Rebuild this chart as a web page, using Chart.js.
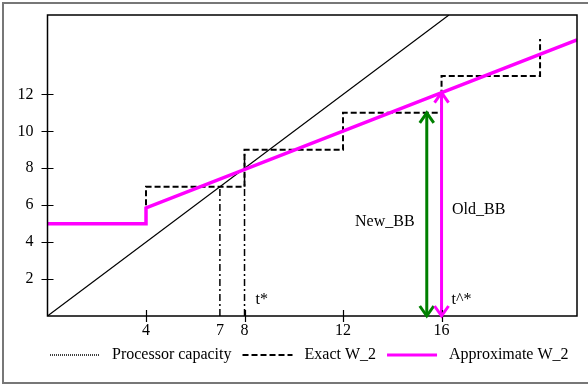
<!DOCTYPE html>
<html>
<head>
<meta charset="utf-8">
<script src="https://cdn.jsdelivr.net/npm/chart.js@4"></script>
<style>
  html, body { margin: 0; padding: 0; background: #fff; }
  #wrap { position: relative; width: 588px; height: 390px; }
</style>
</head>
<body>
<div id="wrap"><canvas id="chart" width="588" height="390"></canvas></div>
<script>
const FONT = "'Liberation Serif', 'DejaVu Serif', serif";

// axis ticks
const xTicks = [4, 7, 8, 12, 16];
const yTicks = [2, 4, 6, 8, 10, 12];
const xMax = 21.5;
const yMax = 16.3;

// processor capacity: y = t
const capacityX = [0, 16.3];
const capacityY = [0, 16.3];

// exact W_2 step function
const exactX = [0, 4, 4, 8, 8, 12, 12, 16, 16, 20, 20];
const exactY = [5, 5, 7, 7, 9, 9, 11, 11, 13, 13, 15];

// approximate W_2
const approxX = [0, 4, 4, 21.5];
const approxY = [5, 5, 5.85, 14.95];

// dash-dot drop lines at t = 7 and t* = 8
const dropX = [7, 8];
const dropY = [7, 9];

// budget arrows
const newBB = { x: 15.4, y: 11 };
const oldBB = { x: 16, y: 12.1 };

const pts = (xs, ys) => xs.map((x, i) => ({ x, y: ys[i] }));

const legendItems = [
  { text: 'Processor capacity', color: '#000', width: 1.5, dash: [1, 1] },
  { text: 'Exact W_2', color: '#000', width: 2, dash: [6, 3] },
  { text: 'Approximate W_2', color: '#ff00ff', width: 3, dash: [] }
];

function arrowHead(ctx, x, y, dir, color) {
  // open chevron, dir = -1 points up, +1 points down
  ctx.save();
  ctx.strokeStyle = color;
  ctx.lineWidth = 3;
  ctx.setLineDash([]);
  ctx.beginPath();
  ctx.moveTo(x - 7, y - dir * 10);
  ctx.lineTo(x, y);
  ctx.lineTo(x + 7, y - dir * 10);
  ctx.stroke();
  ctx.restore();
}

const extras = {
  id: 'extras',
  afterDatasetsDraw(chart) {
    const { ctx, chartArea: a, scales: { x, y } } = chart;
    ctx.save();

    // plot frame
    ctx.strokeStyle = '#000';
    ctx.lineWidth = 1.5;
    ctx.strokeRect(a.left, a.top, a.right - a.left, a.bottom - a.top);

    // tick marks crossing the axes
    ctx.lineWidth = 1.2;
    ctx.beginPath();
    yTicks.forEach(v => {
      const py = Math.round(y.getPixelForValue(v)) + 0.5;
      ctx.moveTo(a.left - 6, py);
      ctx.lineTo(a.left + 6, py);
    });
    [4, 8, 12, 16].forEach(v => {
      const px = Math.round(x.getPixelForValue(v)) + 0.5;
      ctx.moveTo(px, a.bottom - 6);
      ctx.lineTo(px, a.bottom + 6);
    });
    ctx.stroke();

    // arrow heads for the budget arrows
    const y0 = y.getPixelForValue(0);
    arrowHead(ctx, x.getPixelForValue(newBB.x), y.getPixelForValue(newBB.y), -1, '#008000');
    arrowHead(ctx, x.getPixelForValue(newBB.x), y0, 1, '#008000');
    arrowHead(ctx, x.getPixelForValue(oldBB.x), y.getPixelForValue(oldBB.y), -1, '#ff00ff');
    arrowHead(ctx, x.getPixelForValue(oldBB.x), y0, 1, '#ff00ff');

    // labels
    ctx.fillStyle = '#000';
    ctx.font = '16px ' + FONT;
    ctx.textBaseline = 'middle';
    ctx.textAlign = 'left';
    ctx.fillText('New_BB', 355, 222);
    ctx.fillText('Old_BB', 452, 210);
    ctx.fillText('t*', x.getPixelForValue(8) + 11, 300);
    ctx.fillText('t^*', x.getPixelForValue(16) + 10, 300);

    // legend
    let lx = 50;
    const ly = 355;
    legendItems.forEach(it => {
      ctx.save();
      ctx.strokeStyle = it.color;
      ctx.lineWidth = it.width;
      ctx.setLineDash(it.dash);
      ctx.beginPath();
      ctx.moveTo(lx, ly);
      ctx.lineTo(lx + 50, ly);
      ctx.stroke();
      ctx.restore();
      ctx.fillText(it.text, lx + 62, ly);
      lx += 62 + ctx.measureText(it.text).width + 11;
    });

    // outer box
    ctx.strokeStyle = '#777';
    ctx.lineWidth = 2;
    ctx.beginPath();
    ctx.moveTo(590, 3);
    ctx.lineTo(3, 3);
    ctx.lineTo(3, 383);
    ctx.lineTo(590, 383);
    ctx.stroke();

    ctx.restore();
  }
};

const line = (data, color, width, dash, order) => ({
  data, borderColor: color, borderWidth: width, borderDash: dash || [],
  pointRadius: 0, fill: false, tension: 0, order, showLine: true
});

function draw() {
  new Chart(document.getElementById('chart'), {
    type: 'scatter',
    data: {
      datasets: [
        line(pts(capacityX, capacityY), '#000', 1.2, [], 4),
        line(pts(exactX, exactY), '#000', 2, [6, 3], 3),
        line(pts(approxX, approxY), '#ff00ff', 3.5, [], 1),
        line([{ x: dropX[0], y: 0 }, { x: dropX[0], y: dropY[0] }], '#000', 1.5, [7, 3, 2, 3], 5),
        line([{ x: dropX[1], y: 0 }, { x: dropX[1], y: dropY[1] }], '#000', 1.5, [7, 3, 2, 3], 5),
        line([{ x: newBB.x, y: 0 }, { x: newBB.x, y: newBB.y }], '#008000', 3, [], 0),
        line([{ x: oldBB.x, y: 0 }, { x: oldBB.x, y: oldBB.y }], '#ff00ff', 3, [], 0)
      ]
    },
    options: {
      responsive: false,
      animation: false,
      layout: { padding: { top: 15, right: 11, left: 0, bottom: 0 } },
      plugins: { legend: { display: false }, tooltip: { enabled: false } },
      scales: {
        x: {
          type: 'linear', min: 0, max: xMax,
          afterBuildTicks: s => { s.ticks = xTicks.map(v => ({ value: v })); },
          afterFit: s => { s.height = 74; s.paddingLeft = 0; s.paddingRight = 0; },
          grid: { display: false, drawTicks: false },
          border: { display: false },
          ticks: { color: '#000', padding: 5, maxRotation: 0, font: { family: FONT, size: 16 } }
        },
        y: {
          type: 'linear', min: 0, max: yMax,
          afterBuildTicks: s => { s.ticks = yTicks.map(v => ({ value: v })); },
          afterFit: s => { s.width = 47.5; s.paddingTop = 0; s.paddingBottom = 0; },
          grid: { display: false, drawTicks: false },
          border: { display: false },
          ticks: { color: '#000', padding: 14, font: { family: FONT, size: 16 } }
        }
      }
    },
    plugins: [extras]
  });
}

document.fonts.load("16px 'Liberation Serif'").then(draw, draw);
</script>
</body>
</html>
